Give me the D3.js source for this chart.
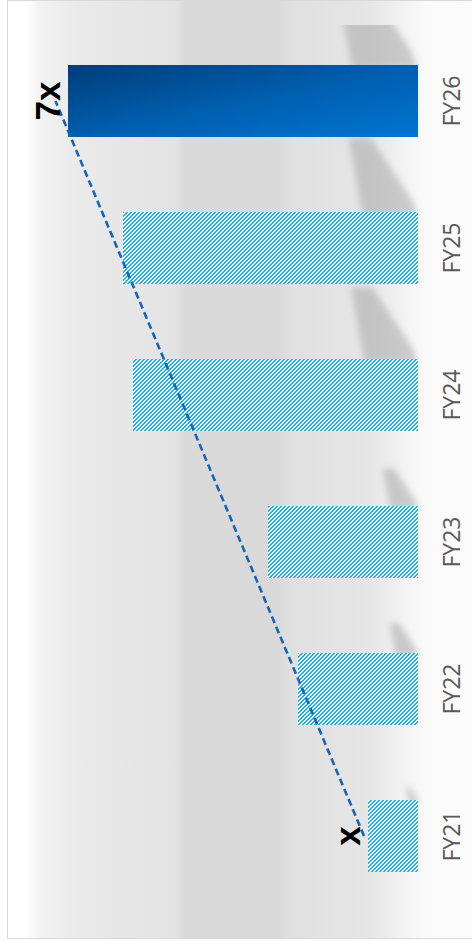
<!DOCTYPE html>
<html>
<head>
<meta charset="utf-8">
<script src="https://cdn.jsdelivr.net/npm/d3@7"></script>
<style>
    html, body { margin: 0; padding: 0; background: #ffffff; }
    svg { display: block; }
</style>
</head>
<body>
<svg id="chart"></svg>
<script>
// fiscal years, bottom to top
const years = ['FY21', 'FY22', 'FY23', 'FY24', 'FY25', 'FY26'];
// bar values, in multiples of FY21
const values = [1.0, 2.4, 3.0, 5.7, 5.9, 7.0];
// labels written past the end of some bars
const barLabels = ['x', '', '', '', '', '7x'];
// the year drawn solid instead of hatched
const solidYear = 'FY26';
// dashed linear trendline: value at first and last year
const trendYears = ['FY21', 'FY26'];
const trendValues = [1.08, 7.25];

class ShadowBarChart {

    constructor(_config) {
        this.config = {
            parentElement: _config.parentElement,
            containerWidth: 472,
            containerHeight: 941,
            baseline: 418,
            valueEnd: 18,
            bandStart: 909.5,
            bandEnd: 27.5,
            hatchColour: '#16b2ec',
            trendColour: '#1565b9',
            labelColour: '#595959'
        }
        this.initVis();
    }

    initVis() {
        let vis = this;
        let cfg = vis.config;

        vis.svg = d3.select(cfg.parentElement)
            .attr('width', cfg.containerWidth)
            .attr('height', cfg.containerHeight);

        // bars grow from the right edge to the left
        vis.xScale = d3.scaleLinear()
            .domain([0, 8])
            .range([cfg.baseline, cfg.valueEnd]);

        vis.yScale = d3.scaleBand()
            .domain(years)
            .range([cfg.bandStart, cfg.bandEnd])
            .paddingInner(0.51)
            .paddingOuter(0.255);

        let defs = vis.svg.append('defs');

        // chart area fill, banded grey
        let bg = defs.append('linearGradient')
            .attr('id', 'bgFill')
            .attr('gradientUnits', 'userSpaceOnUse')
            .attr('x1', 8).attr('x2', 472).attr('y1', 0).attr('y2', 0);
        [[25, '#ffffff'], [40, '#f2f2f2'], [80, '#eaeaea'], [176, '#e3e3e3'], [184, '#dadada'],
         [278, '#d9d9d9'], [290, '#e0e0e0'], [370, '#e6e6e6'], [402, '#f2f2f2'], [425, '#fafafa'], [472, '#fbfbfb']]
            .forEach(s => {
                bg.append('stop').attr('offset', (s[0] - 8) / 464).attr('stop-color', s[1]);
            });

        // solid bar fill
        let solid = defs.append('linearGradient')
            .attr('id', 'solidFill')
            .attr('x1', 0).attr('y1', 0).attr('x2', 1).attr('y2', 1);
        solid.append('stop').attr('offset', 0).attr('stop-color', '#003d78');
        solid.append('stop').attr('offset', 0.5).attr('stop-color', '#005eae');
        solid.append('stop').attr('offset', 1).attr('stop-color', '#0075d3');

        // wide upward diagonal hatch, 4px tile
        let hatch = defs.append('pattern')
            .attr('id', 'hatch')
            .attr('patternUnits', 'userSpaceOnUse')
            .attr('width', 4).attr('height', 4);
        hatch.append('rect').attr('width', 4).attr('height', 4).attr('fill', '#ffffff');
        hatch.selectAll('rect.px')
            .data(d3.range(16).filter(i => [2, 3].includes(((i % 4) + Math.floor(i / 4)) % 4)))
            .join('rect')
            .attr('class', 'px')
            .attr('x', i => i % 4)
            .attr('y', i => Math.floor(i / 4))
            .attr('width', 1).attr('height', 1)
            .attr('fill', cfg.hatchColour);

        defs.append('filter')
            .attr('id', 'soft')
            .attr('x', '-50%').attr('y', '-50%').attr('width', '200%').attr('height', '200%')
            .append('feGaussianBlur').attr('stdDeviation', 3);

        defs.append('clipPath')
            .attr('id', 'plotClip')
            .append('rect')
            .attr('x', 8).attr('y', 25).attr('width', 464).attr('height', 913);

        vis.svg.append('rect')
            .attr('x', 8).attr('y', 1)
            .attr('width', 464).attr('height', 937)
            .attr('fill', 'url(#bgFill)');

        vis.svg.append('rect')
            .attr('x', 7.5).attr('y', 0.5)
            .attr('width', 470).attr('height', 938)
            .attr('fill', 'none')
            .attr('stroke', '#d9d9d9');

        vis.data = years.map((y, i) => ({ year: y, value: values[i], label: barLabels[i] }));

        vis.renderVis();
    }

    renderVis() {
        let vis = this;
        let cfg = vis.config;
        let B = cfg.baseline;

        // skewed shadow cast above each bar
        vis.svg.append('g')
            .attr('clip-path', 'url(#plotClip)')
            .selectAll('polygon')
            .data(vis.data)
            .join('polygon')
            .attr('fill', '#a8a8a8')
            .attr('opacity', 0.55)
            .attr('filter', 'url(#soft)')
            .attr('points', d => {
                let L = B - vis.xScale(d.value);
                let T = vis.yScale(d.year);
                let h = 0.25 * L;
                return [
                    [B, T + 4],
                    [B - 0.19 * L, T + 4],
                    [B - 0.19 * L, T],
                    [B - 0.235 * L, T - h],
                    [B - 0.16 * L, T - h],
                    [B - 0.02 * L, T - 0.04 * L]
                ].map(p => p.join(',')).join(' ');
            });

        vis.svg.append('g')
            .selectAll('rect')
            .data(vis.data)
            .join('rect')
            .attr('x', d => vis.xScale(d.value))
            .attr('y', d => vis.yScale(d.year))
            .attr('width', d => B - vis.xScale(d.value))
            .attr('height', vis.yScale.bandwidth())
            .attr('fill', d => d.year === solidYear ? 'url(#solidFill)' : 'url(#hatch)');

        // trendline
        let half = vis.yScale.bandwidth() / 2;
        vis.svg.append('line')
            .attr('x1', vis.xScale(trendValues[0]))
            .attr('y1', vis.yScale(trendYears[0]) + half)
            .attr('x2', vis.xScale(trendValues[1]))
            .attr('y2', vis.yScale(trendYears[1]) + half)
            .attr('stroke', cfg.trendColour)
            .attr('stroke-width', 2.6)
            .attr('stroke-dasharray', '7 4');

        // category labels, read bottom to top
        vis.svg.append('g')
            .selectAll('text')
            .data(vis.data)
            .join('text')
            .attr('transform', d => `translate(460, ${vis.yScale(d.year) + half}) rotate(-90)`)
            .attr('text-anchor', 'middle')
            .attr('font-family', '"Open Sans", sans-serif')
            .attr('font-size', '23px')
            .attr('fill', cfg.labelColour)
            .text(d => d.year);

        // multiple labels
        vis.svg.append('g')
            .selectAll('text')
            .data(vis.data.filter(d => d.label !== ''))
            .join('text')
            .attr('transform', d => `translate(${vis.xScale(d.value) - 8}, ${vis.yScale(d.year) + half}) rotate(-90)`)
            .attr('text-anchor', 'middle')
            .attr('font-family', '"Liberation Sans", Arial, sans-serif')
            .attr('font-weight', 'bold')
            .attr('font-size', '35px')
            .attr('fill', '#000000')
            .text(d => d.label);
    }
}

let chart = new ShadowBarChart({ parentElement: '#chart' });
</script>
</body>
</html>
